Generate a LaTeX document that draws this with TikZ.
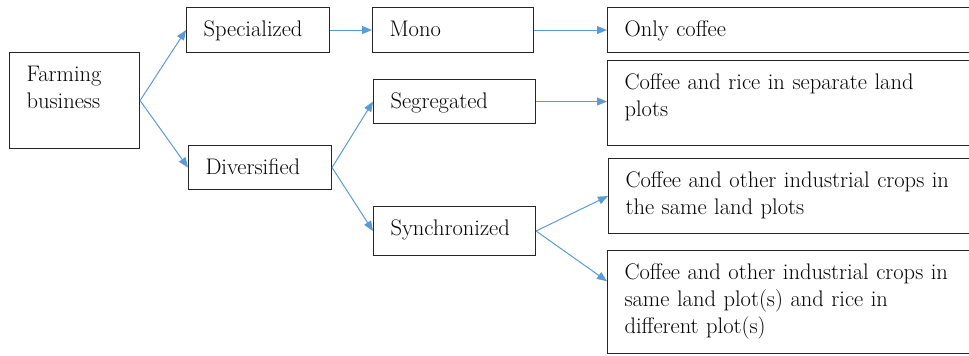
\documentclass[tikz,border=0pt]{standalone}
\usetikzlibrary{calc, arrows.meta}
\definecolor{linkblue}{RGB}{91,155,213}
\def\padx{12.75pt}
\tikzset{cell/.style={draw=black!85, line width=0.8pt, anchor=north west, align=left, inner xsep=\padx, inner ysep=0pt, text height=21.75pt}}
\tikzset{link/.style={linkblue, line width=0.75pt, -{Triangle[length=7.5pt,width=6pt]}}}

\begin{document}
\begin{tikzpicture}[x=0.75pt, y=-0.75pt, font=\fontsize{16.9pt}{20.25pt}\selectfont]
      \clip (0,0) rectangle (969,356);
      % Root
      \node[cell, text width=72pt, text depth=50.25pt] (farm) at (9,52) {Farming\\business};
      % Level 1
      \node[cell, text width=81.75pt, text depth=12pt] (spec) at (186,7) {Specialized};
      \node[cell, text width=81.75pt, text depth=11.25pt] (div) at (188,145) {Diversified};
      % Level 2
      \node[cell, text width=95.25pt, text depth=12pt] (mono) at (372,7) {Mono};
      \node[cell, text width=96pt, text depth=11.25pt] (seg) at (373,79) {Segregated};
      \node[cell, text width=96pt, text depth=15pt] (sync) at (373,206) {Synchronized};
      % Level 3
      \node[cell, text width=259.5pt, text depth=12pt] (only) at (607,7) {Only coffee};
      \node[cell, text width=259.5pt, text depth=42pt] (rice) at (607,60)
        {Coffee and rice in separate land\\plots};
      \node[cell, text width=259.5pt, text depth=34.5pt] (same) at (608,158)
        {Coffee and other industrial crops in\\the same land plots};
      \node[cell, text width=259.5pt, text depth=55.5pt] (diff) at (607,250)
        {Coffee and other industrial crops in\\same land plot(s) and rice in\\different plot(s)};

      % Links
      \draw[link] (farm.east) -- (spec.west);
      \draw[link] (farm.east) -- (div.west);
      \draw[link] (spec.east) -- (mono.west);
      \draw[link] (mono.east) -- (only.west);
      \draw[link] (div.east) -- (seg.west);
      \draw[link] (div.east) -- (sync.west);
      \draw[link] (seg.east) -- (seg.east -| rice.west);
      \draw[link] (sync.east) -- (same.west);
      \draw[link] (sync.east) -- ($(diff.north west)!0.3!(diff.south west)$);
\end{tikzpicture}
\end{document}
